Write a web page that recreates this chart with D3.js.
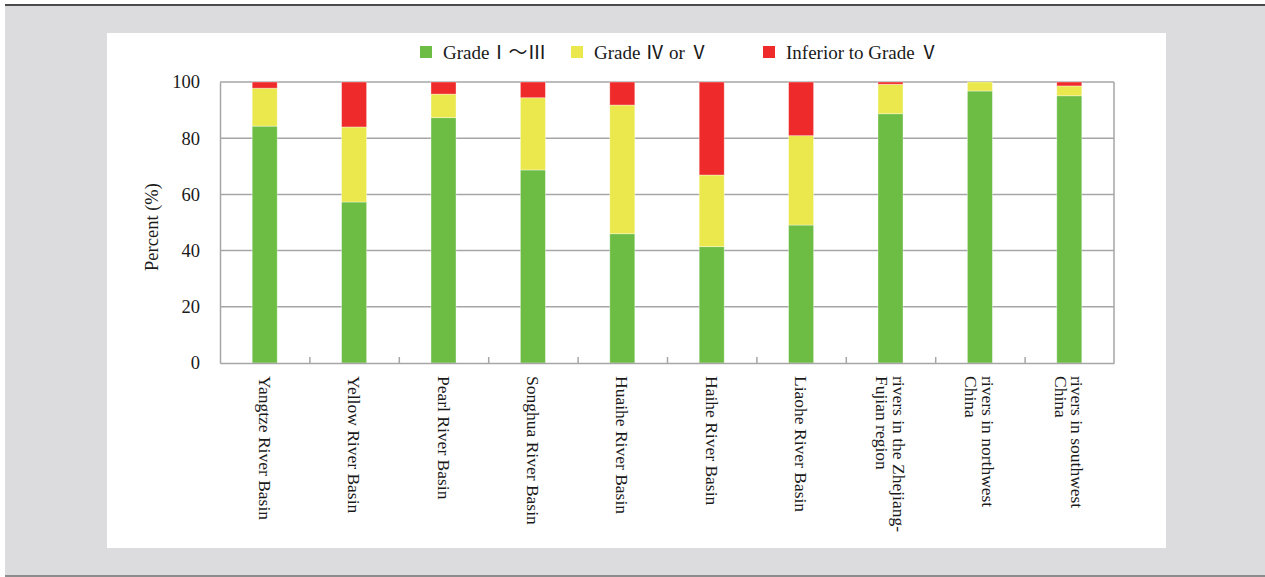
<!DOCTYPE html>
<html>
<head>
<meta charset="utf-8">
<script src="https://cdn.jsdelivr.net/npm/d3@7"></script>
<style>
  body { margin: 0; background: #fff; }
  text { font-family: "Liberation Serif", "Times New Roman", serif; fill: #1a1a1a; }
  .legend text { font-family: "Liberation Serif", "Noto Sans CJK SC", serif; }
</style>
</head>
<body>
<div id="chart"></div>
<script>
// data
var basins = [
  ["Yangtze River Basin"],
  ["Yellow River Basin"],
  ["Pearl River Basin"],
  ["Songhua River Basin"],
  ["Huaihe River Basin"],
  ["Haihe River Basin"],
  ["Liaohe River Basin"],
  ["rivers in the Zhejiang-", "Fujian region"],
  ["rivers in northwest", "China"],
  ["rivers in southwest", "China"]
];
var gradeI_III = [84.3, 57.3, 87.3, 68.7, 46.0, 41.4, 49.1, 88.7, 96.8, 95.1];
var gradeIV_V  = [13.5, 26.7, 8.4, 25.7, 45.8, 25.5, 31.8, 10.5, 3.2, 3.5];
var inferiorV  = [2.2, 16.0, 4.3, 5.6, 8.2, 33.1, 19.1, 0.8, 0.0, 1.4];
var seriesNames = ["Grade\u2160\uFF5E\u2162", "Grade \u2163 or \u2164", "Inferior to Grade \u2164"];
var seriesColors = ["#6dbd45", "#ebe84e", "#ee2b2a"];
var yTicks = [0, 20, 40, 60, 80, 100];

// settings for window
var w = 1265, h = 577;
var plotL = 220, plotR = 1114, plotT = 82, plotB = 363;

var svg = d3.select("#chart").append("svg").attr("width", w).attr("height", h);

// page background, rules and white panel
svg.append("rect").attr("x", 5).attr("y", 5).attr("width", w - 5).attr("height", 571).attr("fill", "#dcdcde");
svg.append("rect").attr("x", 5).attr("y", 4).attr("width", w - 5).attr("height", 2).attr("fill", "#4a4a4a");
svg.append("rect").attr("x", 5).attr("y", 575).attr("width", w - 5).attr("height", 2).attr("fill", "#8c8c8c");
svg.append("rect").attr("x", 107).attr("y", 33).attr("width", 1059).attr("height", 515).attr("fill", "#fff");

// scales
var idx = d3.range(basins.length);
var xScale = d3.scaleBand().domain(idx).range([plotL, plotR]);
var xLin = d3.scaleLinear().domain([0, basins.length]).range([plotL, plotR]);
var yScale = d3.scaleLinear().domain([0, 100]).range([plotB, plotT]);
var barW = xScale.bandwidth() * 0.28;

// gridlines
svg.append("g").selectAll("line").data(yTicks.filter(function(d) { return d > 0; })).enter().append("line")
  .attr("x1", plotL).attr("x2", plotR)
  .attr("y1", function(d) { return yScale(d); }).attr("y2", function(d) { return yScale(d); })
  .attr("stroke", "#a6a6a6").attr("stroke-width", 1.5);

// stacked bars
var table = idx.map(function(i) { return { i: i, a: gradeI_III[i], b: gradeIV_V[i], c: inferiorV[i] }; });
var stack = d3.stack().keys(["a", "b", "c"])(table);
svg.append("g").selectAll("g").data(stack).enter().append("g")
  .attr("fill", function(d, k) { return seriesColors[k]; })
  .selectAll("rect").data(function(d) { return d; }).enter().append("rect")
  .attr("x", function(d) { return xScale(d.data.i) + (xScale.bandwidth() - barW) / 2; })
  .attr("y", function(d) { return yScale(Math.min(100, d[1])); })
  .attr("width", barW)
  .attr("height", function(d) { return Math.max(0, yScale(d[0]) - yScale(Math.min(100, d[1]))); })
  .attr("stroke", "rgba(255,255,255,0.45)").attr("stroke-width", 0.8);

// plot frame
svg.append("line").attr("x1", plotR).attr("x2", plotR).attr("y1", plotT).attr("y2", plotB).attr("stroke", "#a6a6a6").attr("stroke-width", 1.5);

// y axis
var yAxis = d3.axisLeft(yScale).tickValues(yTicks).tickSize(0).tickPadding(20);
var gy = svg.append("g").attr("transform", "translate(" + plotL + ",0)").call(yAxis);
gy.select(".domain").attr("stroke", "#a6a6a6").attr("stroke-width", 1.5);
gy.selectAll("text").style("font-size", "18.5px").style("font-family", "Liberation Serif, serif").attr("fill", "#1a1a1a");

// x axis with ticks between categories
var xAxis = d3.axisBottom(xLin).tickValues(d3.range(1, basins.length)).tickSizeInner(-6).tickSizeOuter(0).tickFormat("");
var gx = svg.append("g").attr("transform", "translate(0," + plotB + ")").call(xAxis);
gx.select(".domain").attr("stroke", "#a6a6a6").attr("stroke-width", 1.5);
gx.selectAll(".tick line").attr("stroke", "#a6a6a6").attr("stroke-width", 1.5);

// category labels, rotated
var lab = svg.append("g").selectAll("text").data(basins).enter().append("text")
  .attr("transform", function(d, i) {
    var cx = xScale(i) + xScale.bandwidth() / 2 + (d.length - 1) * 8 - 6;
    return "translate(" + cx + ",376) rotate(90)";
  })
  .style("font-size", "17.5px");
lab.selectAll("tspan").data(function(d) { return d; }).enter().append("tspan")
  .attr("x", 0).attr("dy", function(d, j) { return j === 0 ? 0 : 16.5; })
  .text(function(d) { return d; });

// axis title
svg.append("text").attr("transform", "translate(158,227) rotate(-90)").attr("text-anchor", "middle")
  .style("font-size", "18.5px").text("Percent (%)");

// legend
var legX = [420, 571, 763];
var leg = svg.append("g").attr("class", "legend").selectAll("g").data(seriesNames).enter().append("g")
  .attr("transform", function(d, k) { return "translate(" + legX[k] + ",46)"; });
leg.append("rect").attr("width", 12).attr("height", 12).attr("fill", function(d, k) { return seriesColors[k]; });
leg.append("text").attr("x", 23).attr("y", 12.5).style("font-size", "19px").text(function(d) { return d; });
</script>
</body>
</html>
